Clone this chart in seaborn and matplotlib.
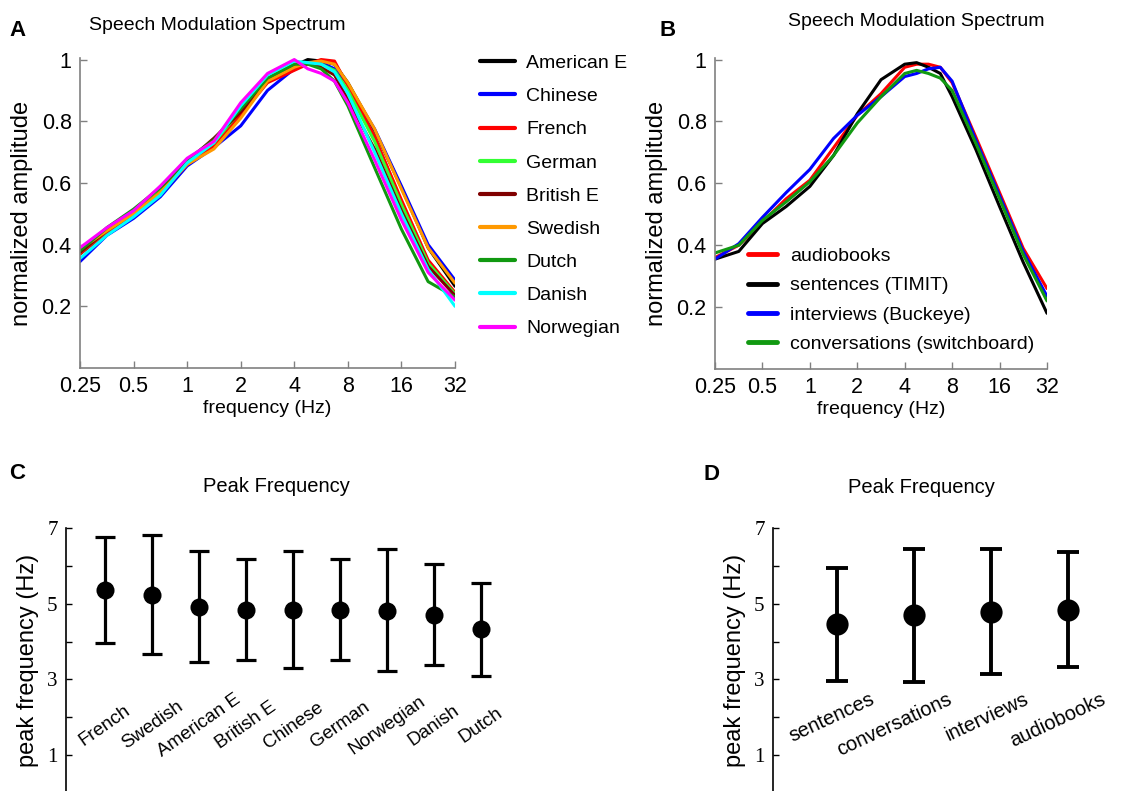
import numpy as np
import pandas as pd
import matplotlib
matplotlib.use('Agg')
import matplotlib.pyplot as plt
import seaborn as sns

# frequency grid (Hz)
freq = [0.25, 0.354, 0.5, 0.707, 1.0, 1.414, 2.0, 2.83, 4.0, 4.76, 5.66, 6.73, 8.0, 11.3, 16.0, 22.6, 32.0]

# panel A: languages
langs = ['American E', 'Chinese', 'French', 'German', 'British E',
         'Swedish', 'Dutch', 'Danish', 'Norwegian']
lang_colors = ['#000000', '#0000ff', '#ff0000', '#33ff33', '#800000',
               '#ff9900', '#119911', '#00ffff', '#ff00ff']
amp_american = [0.37, 0.44, 0.50, 0.575, 0.67, 0.73, 0.83, 0.93, 0.98, 1.0, 0.995, 0.985, 0.925, 0.77, 0.585, 0.39, 0.265]
amp_chinese = [0.345, 0.43, 0.485, 0.555, 0.655, 0.715, 0.785, 0.90, 0.97, 0.99, 0.99, 0.97, 0.92, 0.775, 0.59, 0.40, 0.285]
amp_french = [0.37, 0.44, 0.50, 0.565, 0.66, 0.72, 0.82, 0.925, 0.965, 0.985, 1.0, 0.995, 0.915, 0.75, 0.545, 0.35, 0.245]
amp_german = [0.375, 0.445, 0.505, 0.575, 0.67, 0.73, 0.835, 0.935, 0.985, 0.99, 0.985, 0.965, 0.90, 0.735, 0.53, 0.34, 0.24]
amp_british = [0.375, 0.445, 0.50, 0.57, 0.67, 0.745, 0.83, 0.93, 0.98, 0.99, 0.975, 0.95, 0.87, 0.71, 0.51, 0.33, 0.235]
amp_swedish = [0.385, 0.445, 0.50, 0.57, 0.66, 0.71, 0.81, 0.93, 0.975, 0.99, 0.995, 0.985, 0.925, 0.775, 0.58, 0.39, 0.275]
amp_dutch = [0.38, 0.455, 0.515, 0.585, 0.675, 0.74, 0.84, 0.94, 0.985, 0.985, 0.97, 0.93, 0.85, 0.65, 0.45, 0.28, 0.23]
amp_danish = [0.355, 0.43, 0.49, 0.56, 0.665, 0.73, 0.85, 0.95, 0.995, 0.99, 0.985, 0.96, 0.89, 0.70, 0.50, 0.32, 0.20]
amp_norwegian = [0.39, 0.455, 0.51, 0.59, 0.68, 0.735, 0.86, 0.955, 1.0, 0.97, 0.955, 0.93, 0.86, 0.675, 0.48, 0.31, 0.22]
lang_amps = [amp_american, amp_chinese, amp_french, amp_german, amp_british,
             amp_swedish, amp_dutch, amp_danish, amp_norwegian]

# panel B: speech genres
genres = ['audiobooks', 'sentences (TIMIT)', 'interviews (Buckeye)', 'conversations (switchboard)']
genre_colors = ['#ff0000', '#000000', '#0000ff', '#119911']
amp_audiobooks = [0.36, 0.40, 0.475, 0.55, 0.61, 0.715, 0.82, 0.89, 0.975, 0.985, 0.985, 0.975, 0.925, 0.75, 0.57, 0.39, 0.26]
amp_sentences = [0.355, 0.38, 0.47, 0.525, 0.59, 0.69, 0.825, 0.935, 0.985, 0.99, 0.975, 0.955, 0.88, 0.71, 0.525, 0.345, 0.18]
amp_interviews = [0.355, 0.405, 0.49, 0.57, 0.645, 0.745, 0.82, 0.88, 0.945, 0.955, 0.97, 0.975, 0.93, 0.74, 0.56, 0.38, 0.235]
amp_conversations = [0.375, 0.40, 0.48, 0.54, 0.605, 0.69, 0.795, 0.88, 0.955, 0.965, 0.955, 0.94, 0.90, 0.73, 0.55, 0.37, 0.22]
genre_amps = [amp_audiobooks, amp_sentences, amp_interviews, amp_conversations]

# panel C: peak frequency by language
c_labels = ['French', 'Swedish', 'American E', 'British E', 'Chinese',
            'German', 'Norwegian', 'Danish', 'Dutch']
c_mean = [5.36, 5.23, 4.91, 4.83, 4.83, 4.83, 4.82, 4.70, 4.33]
c_low = [3.96, 3.66, 3.46, 3.52, 3.30, 3.52, 3.22, 3.37, 3.08]
c_high = [6.76, 6.81, 6.40, 6.17, 6.39, 6.17, 6.44, 6.04, 5.56]

# panel D: peak frequency by genre
d_labels = ['sentences', 'conversations', 'interviews', 'audiobooks']
d_mean = [4.46, 4.70, 4.78, 4.83]
d_low = [2.95, 2.93, 3.14, 3.33]
d_high = [5.94, 6.44, 6.44, 6.36]

sns.set_style('ticks')
plt.rcParams['font.family'] = ['Liberation Sans', 'DejaVu Sans']
plt.rcParams.update({'text.color': 'black', 'axes.labelcolor': 'black',
                     'xtick.color': 'black', 'ytick.color': 'black'})

W, H = 1125, 791
fig = plt.figure(figsize=(W / 100, H / 100), dpi=100)


def px_axes(left, top, right, bottom):
    return fig.add_axes([left / W, 1 - bottom / H, (right - left) / W, (bottom - top) / H])


spine_col = '#808080'
freq_ticks = [0.25, 0.5, 1, 2, 4, 8, 16, 32]
freq_ticklabels = ['0.25', '0.5', '1', '2', '4', '8', '16', '32']


def style_spectrum(ax):
    ax.set_xscale('log', base=2)
    ax.set_xlim(0.25, 32)
    ax.set_ylim(0, 1.005)
    ax.set_xticks(freq_ticks)
    ax.set_xticklabels(freq_ticklabels)
    ax.xaxis.set_minor_locator(matplotlib.ticker.NullLocator())
    ax.set_yticks([0.2, 0.4, 0.6, 0.8, 1.0])
    ax.set_yticklabels(['0.2', '0.4', '0.6', '0.8', '1'])
    ax.tick_params(direction='in', length=5, width=1, labelsize=15.5, color=spine_col,
                   labelcolor='black', pad=6)
    for s in ['top', 'right']:
        ax.spines[s].set_visible(False)
    for s in ['left', 'bottom']:
        ax.spines[s].set_color(spine_col)
        ax.spines[s].set_linewidth(1.2)
    ax.set_xlabel('frequency (Hz)', fontsize=14, labelpad=2)
    ax.set_ylabel('normalized amplitude', fontsize=17, labelpad=6)


# ---- panel A
axA = px_axes(80, 58, 455, 368)
dfA = pd.DataFrame({
    'freq': freq * len(langs),
    'amp': sum(lang_amps, []),
    'lang': [l for l in langs for _ in freq],
})
sns.lineplot(data=dfA, x='freq', y='amp', hue='lang', hue_order=langs,
             palette=lang_colors, lw=2.2, ax=axA, legend=False)
style_spectrum(axA)
handlesA = [plt.Line2D([], [], color=c, lw=3) for c in lang_colors]
axA.legend(handlesA, langs, loc='upper left', bbox_to_anchor=(462 / W, 1 - 37 / H),
           bbox_transform=fig.transFigure, frameon=False, fontsize=14,
           handlelength=1.8, handletextpad=0.6, labelspacing=0.8)

# ---- panel B
axB = px_axes(715, 58, 1047, 369)
dfB = pd.DataFrame({
    'freq': freq * len(genres),
    'amp': sum(genre_amps, []),
    'genre': [g for g in genres for _ in freq],
})
sns.lineplot(data=dfB, x='freq', y='amp', hue='genre', hue_order=genres,
             palette=genre_colors, lw=2.2, ax=axB, legend=False)
style_spectrum(axB)
handlesB = [plt.Line2D([], [], color=c, lw=3.5) for c in genre_colors]
axB.legend(handlesB, genres, loc='upper left', bbox_to_anchor=(730 / W, 1 - 230 / H),
           bbox_transform=fig.transFigure, frameon=False, fontsize=14,
           handlelength=1.5, handletextpad=0.7, labelspacing=0.6)


def style_peak(ax, xmax):
    ax.set_ylim(0, 7)
    ax.set_xlim(0.17, xmax)
    ax.set_xticks([])
    ax.set_yticks(range(1, 8))
    ax.set_yticklabels(['1', '', '3', '', '5', '', '7'])
    ax.tick_params(axis='y', direction='in', length=4, width=1, color='black', pad=6)
    for lab in ax.get_yticklabels():
        lab.set_fontfamily('Liberation Serif')
        lab.set_fontsize(15)
    for s in ['top', 'right', 'bottom']:
        ax.spines[s].set_visible(False)
    ax.spines['left'].set_color('black')
    ax.spines['left'].set_linewidth(1.2)
    ax.set_ylabel('peak frequency (Hz)', fontsize=17, labelpad=6)
    ax.patch.set_alpha(0)


def draw_peaks(ax, labels, mean, low, high, lw, cap, ms):
    pos = list(range(1, len(labels) + 1))
    err = [[m - l for m, l in zip(mean, low)], [h - m for m, h in zip(mean, high)]]
    ax.errorbar(pos, mean, yerr=err, fmt='none', ecolor='black', elinewidth=lw,
                capsize=cap, capthick=lw, clip_on=False)
    sns.scatterplot(x=pos, y=mean, color='black', s=ms ** 2, edgecolor='black',
                    linewidth=0, ax=ax, zorder=5, clip_on=False)
    return pos


# ---- panel C
axC = px_axes(66, 528, 514, 793)
posC = draw_peaks(axC, c_labels, c_mean, c_low, c_high, 2.3, 7.5, 13)
style_peak(axC, 9.7)
for p, lab in zip(posC, c_labels):
    axC.text(p, 1.79, lab, rotation=35, ha='center', va='center', fontsize=13.5)

# ---- panel D
axD = px_axes(773, 528, 1114, 793)
posD = draw_peaks(axD, d_labels, d_mean, d_low, d_high, 2.8, 8, 16)
style_peak(axD, 4.6)
for p, lab in zip(posD, d_labels):
    axD.text(p + 0.53, 2.74, lab, rotation=25, ha='right', va='top', fontsize=14.5)

# titles and panel letters
fig.text(217 / W, 1 - 25 / H, 'Speech Modulation Spectrum', ha='center', va='center', fontsize=14)
fig.text(916 / W, 1 - 22 / H, 'Speech Modulation Spectrum', ha='center', va='center', fontsize=14)
fig.text(276 / W, 1 - 486 / H, 'Peak Frequency', ha='center', va='center', fontsize=14.5)
fig.text(921 / W, 1 - 487 / H, 'Peak Frequency', ha='center', va='center', fontsize=14.5)
for letter, x, y in [('A', 17, 31), ('B', 668, 31), ('C', 17, 474), ('D', 712, 475)]:
    fig.text(x / W, 1 - y / H, letter, ha='center', va='center', fontsize=16, fontweight='bold')

fig.savefig('out.png', dpi=100)
